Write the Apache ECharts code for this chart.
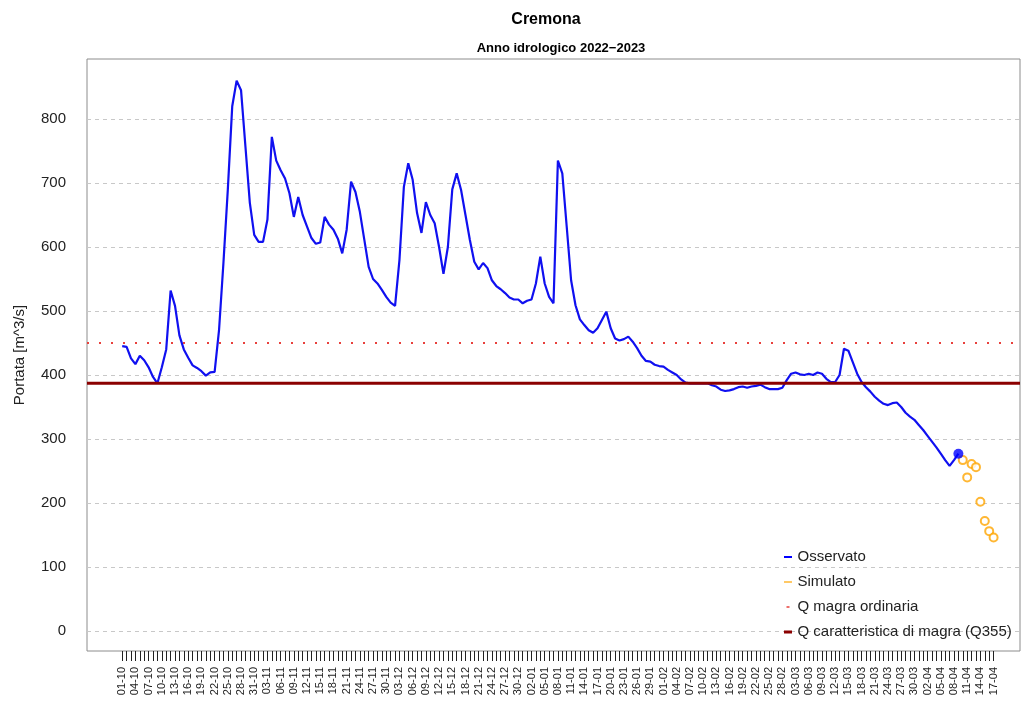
<!DOCTYPE html>
<html>
<head>
<meta charset="utf-8">
<script src="https://cdn.jsdelivr.net/npm/echarts@6/dist/echarts.min.js"></script>
<style>
  html, body { margin: 0; padding: 0; background: #fff; }
  #main { width: 1025px; height: 706px; }
</style>
</head>
<body>
<div id="main"></div>
<script>
// anno idrologico: giorno 0 = 01-10-2022
var startDate = new Date(2022, 9, 1);
var padBefore = 8;      // giorni vuoti prima del 01-10
var nDays = 205;        // giorni sull'asse dopo il 01-10
var lastTickDay = 198;  // 17-04

// portata osservata giornaliera [m^3/s], dal 01-10 al 09-04
var osservato = [
  445, 444, 426, 417, 430, 423, 412, 397, 387, 412,
  440, 532, 508, 462, 440, 427, 415, 411, 406, 399,
  404, 405, 470, 575, 690, 820, 860, 845, 757, 669,
  619, 608, 608, 643, 772, 735, 720, 707, 684, 647,
  678, 650, 632, 614, 605, 607, 647, 635, 627, 613,
  590, 627, 702, 686, 655, 612, 569, 550, 543, 533,
  522, 513, 508, 580, 694, 731, 705, 653, 622, 670,
  650, 637, 600, 558, 600, 690, 715, 689, 650, 611,
  577, 565, 575, 567, 548, 539, 534, 528, 521, 518,
  518, 512, 516, 518, 543, 585, 543, 522, 512, 735,
  715, 632, 548, 509, 487, 478, 470, 466, 473, 486,
  499, 473, 457, 454, 456, 460, 452, 442, 430, 422,
  421, 416, 414, 413, 408, 404, 400, 393, 388, 387,
  387, 387, 387, 387, 384, 382, 377, 375, 376, 378,
  381, 382, 380, 382, 383, 385, 381, 378, 378, 378,
  380, 392, 402, 404, 401, 400, 402, 400, 404, 402,
  394, 389, 389, 400, 441, 438, 420, 402, 389, 381,
  374, 366, 360, 355, 353, 356, 357, 350, 341, 335,
  330, 322, 314, 305, 296, 287, 277, 267, 258, 267,
  277
];

// portata simulata, dal 10-04
var simulatoStart = 191;
var simulato = [267, 240, 261, 256, 202, 172, 156, 146];

var qMagraOrdinaria = 450;
var q355 = 387;

var FONT = 'Liberation Sans, Arial, sans-serif';

function pad2(n) { return (n < 10 ? '0' : '') + n; }

var categories = [];
for (var i = 0; i < padBefore; i++) categories.push('p' + i);
for (var d = 0; d < nDays; d++) {
  var dt = new Date(startDate.getFullYear(), startDate.getMonth(), startDate.getDate() + d);
  categories.push(pad2(dt.getDate()) + '-' + pad2(dt.getMonth() + 1));
}
var nCat = categories.length;

var obsData = [];
var qOrdData = [];
var q355Data = [];
for (var k = 0; k < nCat; k++) {
  var day = k - padBefore;
  obsData.push(day >= 0 && day < osservato.length ? osservato[day] : null);
  qOrdData.push(qMagraOrdinaria);
  q355Data.push(q355);
}
var lastObs = [[padBefore + osservato.length - 1, osservato[osservato.length - 1]]];
var simData = simulato.map(function (v, j) { return [padBefore + simulatoStart + j, v]; });

function lineIcon(h) {
  return 'path://M0,0h0.01v4h-0.01zM0,' + (2 - h / 2) + 'h8v' + h + 'h-8zM7.99,0h0.01v4h-0.01z';
}
var dashIcon = 'path://M0,0h0.01v4h-0.01zM2.5,1.2h3v1.6h-3zM7.99,0h0.01v4h-0.01z';

var chart = echarts.init(document.getElementById('main'), null, { renderer: 'canvas' });

chart.setOption({
  animation: false,
  backgroundColor: '#fff',
  textStyle: { fontFamily: FONT },
  title: [
    { text: 'Cremona', left: 541, top: 7, textAlign: 'center',
      textStyle: { fontSize: 16, fontWeight: 'bold', color: '#000', fontFamily: FONT } },
    { text: 'Anno idrologico 2022\u22122023', left: 556, top: 37, textAlign: 'center',
      textStyle: { fontSize: 13, fontWeight: 'bold', color: '#000', fontFamily: FONT } }
  ],
  grid: {
    left: 87, right: 5, top: 59, bottom: 55,
    show: true, borderColor: '#8c8c8c', borderWidth: 1, backgroundColor: 'transparent'
  },
  legend: {
    orient: 'vertical', left: 779, top: 544,
    itemWidth: 9, itemHeight: 4, itemGap: 9,
    itemStyle: { borderWidth: 0 },
    textStyle: { fontSize: 15, color: '#222', fontFamily: FONT, lineHeight: 16 },
    data: [
      { name: 'Osservato', icon: lineIcon(1.8), itemStyle: { color: '#0000ff' } },
      { name: 'Simulato', icon: lineIcon(1.4), itemStyle: { color: '#FFA500' } },
      { name: 'Q magra ordinaria', icon: dashIcon, itemStyle: { color: '#e8413c' } },
      { name: 'Q caratteristica di magra (Q355)', icon: lineIcon(2.8), itemStyle: { color: '#8B0000' } }
    ]
  },
  xAxis: {
    type: 'category',
    data: categories,
    boundaryGap: false,
    axisLine: { show: false, onZero: false },
    axisTick: {
      show: true, length: 10,
      interval: function (idx) { var dd = idx - padBefore; return dd >= 0 && dd <= lastTickDay; },
      lineStyle: { color: '#222', width: 1 }
    },
    axisLabel: {
      rotate: 90, fontSize: 11, color: '#222', margin: 16, fontFamily: FONT,
      interval: function (idx) { var dd = idx - padBefore; return dd >= 0 && dd <= lastTickDay && dd % 3 === 0; }
    },
    splitLine: { show: false }
  },
  yAxis: {
    type: 'value',
    min: -31.25, max: 893.75, splitNumber: 9,
    name: 'Portata [m^3/s]', nameLocation: 'middle', nameGap: 60,
    nameTextStyle: { fontSize: 15, color: '#222', fontFamily: FONT },
    axisLine: { show: false },
    axisTick: { show: false },
    axisLabel: { fontSize: 15, color: '#222', margin: 21, showMinLabel: false, showMaxLabel: false, fontFamily: FONT },
    splitLine: { show: true, showMinLine: false, showMaxLine: false,
      lineStyle: { color: '#c8c8c8', type: [4, 4], width: 1 } }
  },
  series: [
    { name: 'Osservato', type: 'line', data: obsData, symbol: 'none',
      itemStyle: { color: '#0000ff' }, lineStyle: { color: '#1010f0', width: 2.2 }, z: 2 },
    { name: 'Simulato', type: 'scatter', data: simData, symbol: 'emptyCircle', symbolSize: 8,
      itemStyle: { color: '#FFA500', borderColor: '#FFA500', borderWidth: 1.6 }, z: 3 },
    { name: 'Q magra ordinaria', type: 'line', data: qOrdData, symbol: 'none',
      itemStyle: { color: '#e8413c' }, lineStyle: { color: '#e8413c', width: 2, type: [2, 10] }, z: 4 },
    { name: 'Q caratteristica di magra (Q355)', type: 'line', data: q355Data, symbol: 'none',
      itemStyle: { color: '#8B0000' }, lineStyle: { color: '#8B0000', width: 3 }, z: 4 },
    { name: 'Osservato', type: 'scatter', data: lastObs, symbol: 'circle', symbolSize: 10,
      itemStyle: { color: '#0000ff' }, z: 5 }
  ]
});
</script>
</body>
</html>
